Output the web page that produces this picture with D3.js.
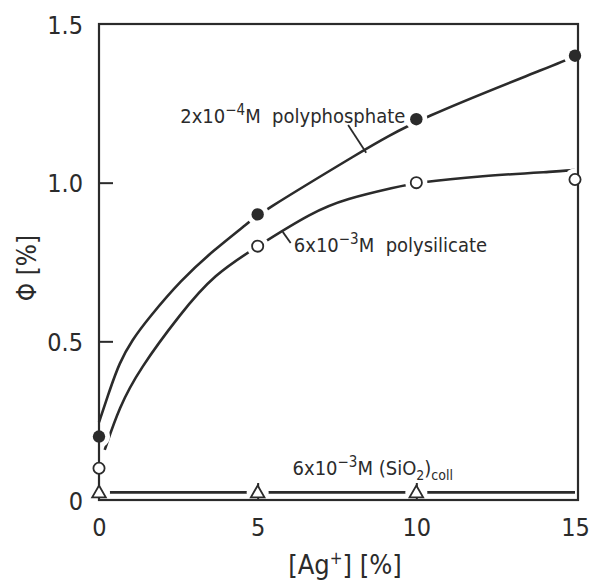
<!DOCTYPE html>
<html>
<head>
<meta charset="utf-8">
<script src="https://cdn.jsdelivr.net/npm/d3@7"></script>
<style>
  body { margin: 0; background: #fff; }
  text { font-family: "Liberation Sans Narrow", "DejaVu Sans Condensed", "Roboto", sans-serif; fill: #2b2b2b; }
</style>
</head>
<body>
<script>
var width = 594, height = 581;
var ink = "#2b2b2b";

// measured points
var agConc = [0, 5, 10, 15];
var polyphosphate = [0.2, 0.9, 1.2, 1.4];
var polysilicate = [0.1, 0.8, 1.0, 1.01];
var sio2Conc = [0, 5, 10];
var sio2 = [0.024, 0.024, 0.024];

// fitted curves as drawn in the figure [Ag+, phi]
var phosphateCurve = [[0, 0.245], [0.34, 0.347], [0.64, 0.432], [1.04, 0.504], [1.56, 0.573],
    [2.58, 0.693], [3.62, 0.788], [4.69, 0.872], [5, 0.9], [8.2, 1.094], [10, 1.2], [14.6, 1.38], [15, 1.4]];
var silicateCurve = [[0.18, 0.158], [0.64, 0.293], [1.26, 0.41], [2.58, 0.589], [3.62, 0.71],
    [5, 0.8], [6.74, 0.908], [7.78, 0.949], [9.37, 0.986], [10, 1.0], [11.97, 1.021], [14.7, 1.037], [15, 1.04]];
var sio2Curve = [[0, 0.024], [15, 0.024]];

var xTicks = [0, 5, 10, 15];
var yTicks = [0, 0.5, 1.0, 1.5];

var svg = d3.select("body").append("svg")
    .attr("width", width)
    .attr("height", height);

var xScale = d3.scaleLinear().domain([0, 15]).range([99, 575]);
var yScale = d3.scaleLinear().domain([0, 1.5]).range([500, 24]);

function makeLine() {
    return d3.line()
        .x(function(d) { return xScale(d[0]); })
        .y(function(d) { return yScale(d[1]); })
        .curve(d3.curveBasis);
}

function plotCurve(points) {
    svg.append("path")
        .datum(points)
        .attr("d", makeLine())
        .attr("fill", "none")
        .attr("stroke", ink)
        .attr("stroke-width", 2.6);
}

plotCurve(phosphateCurve);
plotCurve(silicateCurve);
plotCurve(sio2Curve);

// white gaps round the markers
function addHalo(xs, ys, r) {
    svg.append("g").selectAll("circle")
        .data(xs)
        .enter().append("circle")
        .attr("cx", function(d) { return xScale(d); })
        .attr("cy", function(d, i) { return yScale(ys[i]); })
        .attr("r", r)
        .attr("fill", "#fff");
}
addHalo(agConc, polyphosphate, 11);
addHalo(agConc, polysilicate, 11);
addHalo(sio2Conc, sio2, 11);

// frame
svg.append("rect")
    .attr("x", xScale(0))
    .attr("y", yScale(1.5))
    .attr("width", xScale(15) + 3 - xScale(0))
    .attr("height", yScale(0) - yScale(1.5))
    .attr("fill", "none")
    .attr("stroke", ink)
    .attr("stroke-width", 2.2);

var yAxis = svg.append("g")
    .attr("transform", "translate(" + xScale(0) + ",0)")
    .call(d3.axisLeft(yScale).tickValues(yTicks).tickSizeInner(-14).tickSizeOuter(0).tickPadding(16)
        .tickFormat(function(d) { return d === 0 ? "0" : d3.format(".1f")(d); }));

var xAxis = svg.append("g")
    .attr("transform", "translate(0," + yScale(0) + ")")
    .call(d3.axisBottom(xScale).tickValues(xTicks).tickSizeInner(-17).tickSizeOuter(0).tickPadding(18));

[yAxis, xAxis].forEach(function(ax) {
    ax.select(".domain").remove();
    ax.selectAll(".tick line")
        .attr("stroke", ink)
        .attr("stroke-width", 2)
        .attr("display", function(d) { return (d === 0 || d === 15 || d === 1.5) ? "none" : null; });
    ax.selectAll(".tick text")
        .attr("fill", ink)
        .style("font-size", "25px");
    ax.attr("font-family", null).attr("font-size", null);
});
yAxis.selectAll(".tick text").attr("dy", "0.36em");

// markers
svg.append("g").selectAll("circle")
    .data(agConc)
    .enter().append("circle")
    .attr("cx", function(d) { return xScale(d); })
    .attr("cy", function(d, i) { return yScale(polyphosphate[i]); })
    .attr("r", 6.2)
    .attr("fill", ink);

svg.append("g").selectAll("circle")
    .data(agConc)
    .enter().append("circle")
    .attr("cx", function(d) { return xScale(d); })
    .attr("cy", function(d, i) { return yScale(polysilicate[i]); })
    .attr("r", 5.6)
    .attr("fill", "#fff")
    .attr("stroke", ink)
    .attr("stroke-width", 1.8);

svg.append("g").selectAll("path")
    .data(sio2Conc)
    .enter().append("path")
    .attr("d", d3.symbol().type(d3.symbolTriangle).size(80))
    .attr("transform", function(d, i) { return "translate(" + xScale(d) + "," + (yScale(sio2[i]) + 1) + ")"; })
    .attr("fill", "#fff")
    .attr("stroke", ink)
    .attr("stroke-width", 1.8);

// series labels with leader lines
function addLabel(x, y, parts) {
    var t = svg.append("text")
        .attr("x", xScale(x))
        .attr("y", yScale(y))
        .style("font-size", "20px");
    parts.forEach(function(p) {
        var s = t.append("tspan").text(p[0]);
        if (p[1] === "sup") s.attr("dy", -8).style("font-size", "15px");
        if (p[1] === "base") s.attr("dy", 8);
        if (p[1] === "sub") s.attr("dy", 5).style("font-size", "14px");
        if (p[1] === "unsub") s.attr("dy", -5);
    });
}
function addLeader(a, b) {
    svg.append("line")
        .attr("x1", xScale(a[0])).attr("y1", yScale(a[1]))
        .attr("x2", xScale(b[0])).attr("y2", yScale(b[1]))
        .attr("stroke", ink)
        .attr("stroke-width", 1.8);
}

addLabel(2.56, 1.188, [["2x10"], ["\u22124", "sup"], ["M\u00a0\u00a0polyphosphate", "base"]]);
addLeader([7.85, 1.182], [8.42, 1.094]);

addLabel(6.14, 0.78, [["6x10"], ["\u22123", "sup"], ["M\u00a0\u00a0polysilicate", "base"]]);
addLeader([5.79, 0.845], [6.04, 0.81]);

addLabel(6.1, 0.079, [["6x10"], ["\u22123", "sup"], ["M\u00a0(SiO", "base"], ["2", "sub"], [")", "unsub"], ["coll", "sub"]]);

// axis titles
svg.append("text")
    .attr("text-anchor", "middle")
    .attr("transform", "translate(36," + 268 + ")rotate(-90)")
    .style("font-size", "26px")
    .text("\u03A6 [%]");

var xt = svg.append("text")
    .attr("text-anchor", "middle")
    .attr("x", 345)
    .attr("y", 574)
    .style("font-size", "27px");
xt.append("tspan").text("[Ag");
xt.append("tspan").text("+").attr("dy", -10).style("font-size", "17px");
xt.append("tspan").text("] [%]").attr("dy", 10);
</script>
</body>
</html>
